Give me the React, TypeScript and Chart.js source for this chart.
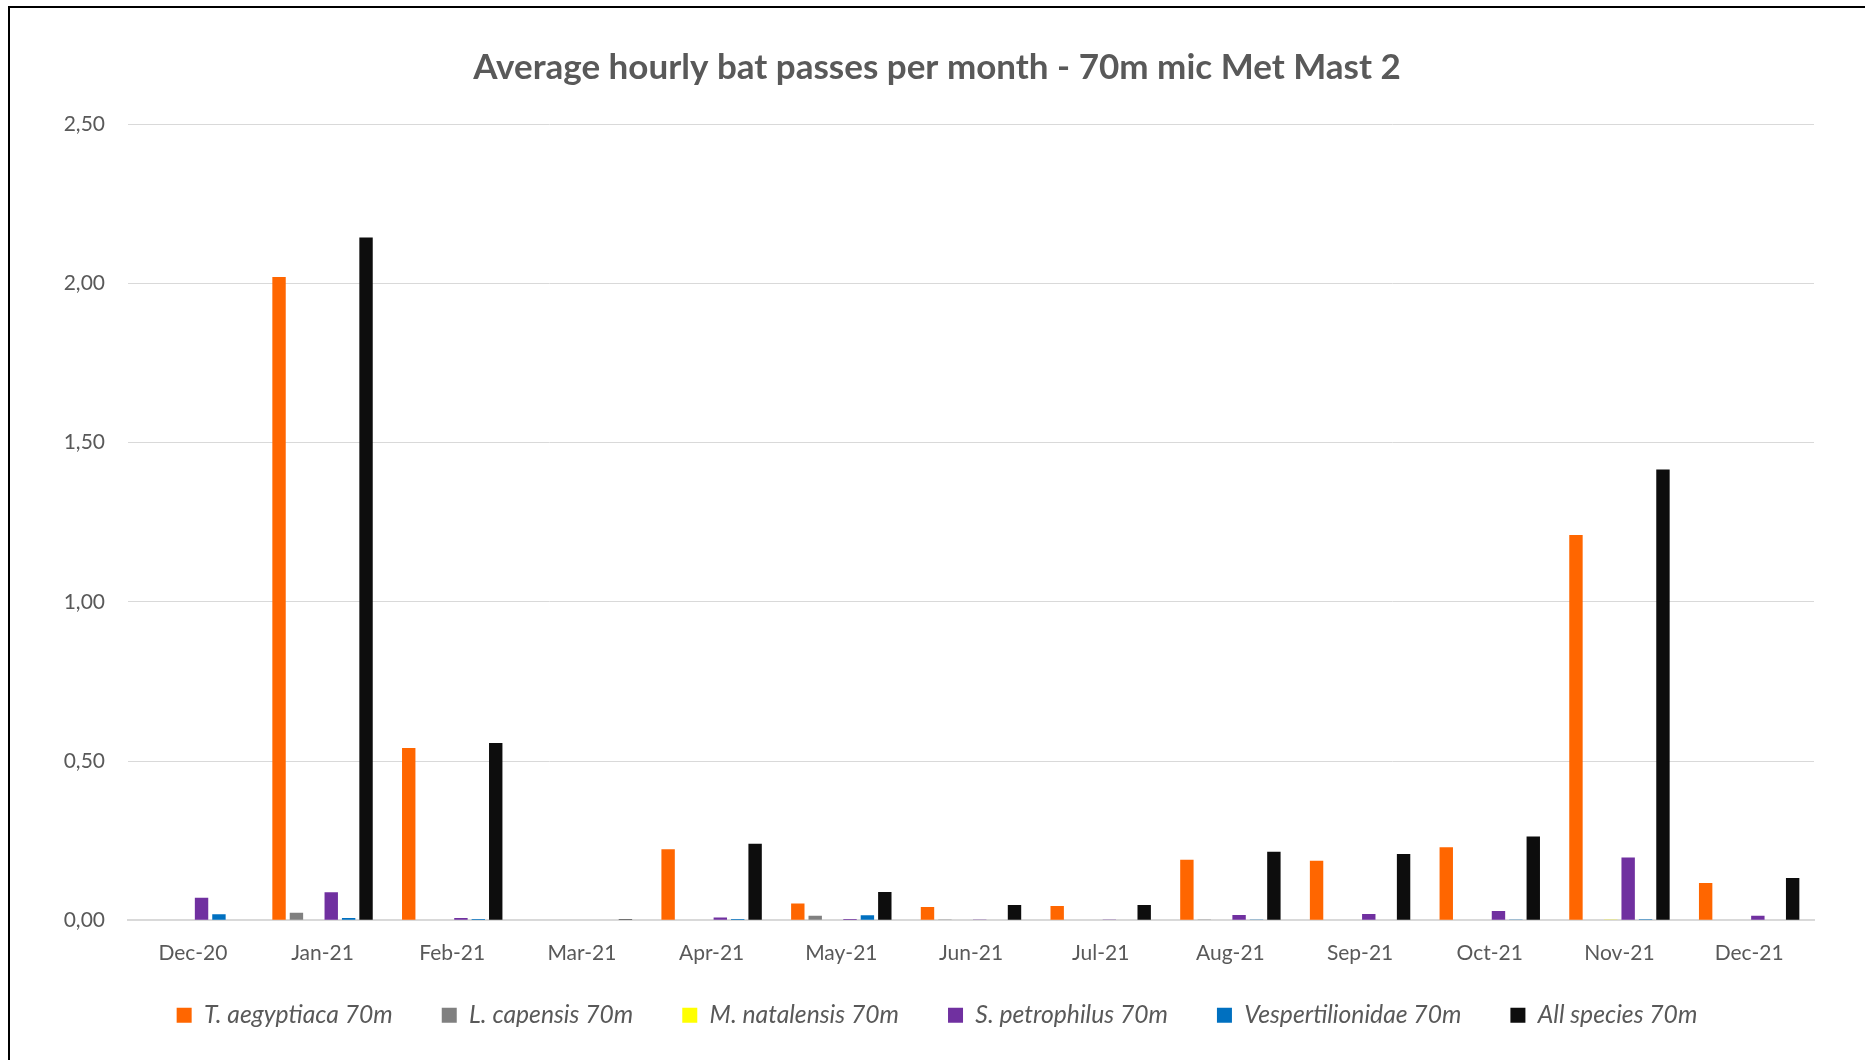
import React, { useEffect, useRef } from "react";
import { Chart, registerables } from "chart.js";

Chart.register(...registerables);

const categories = ["Dec-20", "Jan-21", "Feb-21", "Mar-21", "Apr-21", "May-21", "Jun-21", "Jul-21", "Aug-21", "Sep-21", "Oct-21", "Nov-21", "Dec-21"];

const tAegyptiaca = [0, 2.02, 0.541, 0.002, 0.223, 0.053, 0.042, 0.045, 0.19, 0.187, 0.229, 1.21, 0.117];
const lCapensis = [0, 0.024, 0, 0, 0, 0.014, 0.001, 0, 0.001, 0, 0, 0, 0];
const mNatalensis = [0, 0, 0, 0, 0, 0, 0, 0, 0, 0, 0, 0.001, 0];
const sPetrophilus = [0.071, 0.088, 0.007, 0, 0.009, 0.004, 0.001, 0.001, 0.017, 0.02, 0.029, 0.197, 0.014];
const vespertilionidae = [0.019, 0.007, 0.004, 0, 0.004, 0.016, 0, 0, 0.001, 0, 0.001, 0.003, 0];
const allSpecies = [0, 2.144, 0.557, 0.003, 0.24, 0.089, 0.048, 0.048, 0.215, 0.208, 0.263, 1.415, 0.133];

const seriesNames = ["T. aegyptiaca 70m", "L. capensis 70m", "M. natalensis 70m", "S. petrophilus 70m", "Vespertilionidae 70m", "All species 70m"];
const seriesColors = ["#FF6600", "#808080", "#FFFF00", "#7030A0", "#0070C0", "#0D0D0D"];

const yTicks = [0, 0.5, 1, 1.5, 2, 2.5];

export default function App() {
  const ref = useRef<HTMLCanvasElement | null>(null);

  useEffect(() => {
    if (!ref.current) return;
    const values = [tAegyptiaca, lCapensis, mNatalensis, sPetrophilus, vespertilionidae, allSpecies];
    const chart = new Chart(ref.current, {
      type: "bar",
      data: {
        labels: categories,
        datasets: values.map((v, i) => ({
          label: seriesNames[i],
          data: v,
          backgroundColor: seriesColors[i],
          borderWidth: 0,
          categoryPercentage: 0.805,
          barPercentage: 0.77,
        })),
      },
      options: {
        responsive: false,
        animation: false,
        devicePixelRatio: 1,
        layout: { padding: { left: 60, right: 51, top: 0, bottom: 22.5 } },
        plugins: {
          title: {
            display: true,
            text: "Average hourly bat passes per month - 70m mic Met Mast 2",
            color: "#595959",
            font: { family: "Lato", size: 35, weight: "bold" },
            padding: { top: 47, bottom: 35 },
          },
          legend: {
            position: "bottom",
            labels: {
              color: "#595959",
              font: { family: "Lato", size: 24.7, style: "italic" },
              boxWidth: 15,
              boxHeight: 15,
              padding: 49,
            },
          },
          tooltip: { enabled: false },
        },
        scales: {
          x: {
            grid: { display: false, drawTicks: false },
            border: { display: true, color: "#d9d9d9", width: 2 },
            ticks: {
              color: "#595959",
              font: { family: "Lato", size: 21 },
              padding: 20,
              maxRotation: 0,
            },
            afterFit: (scale: any) => {
              scale.height = 33.5;
              scale._computeLabelArea = () => undefined;
            },
          },
          y: {
            min: 0,
            max: 2.5,
            grid: { color: "#d9d9d9", lineWidth: 1, drawTicks: false },
            border: { display: false },
            afterBuildTicks: (scale: any) => {
              scale.ticks = yTicks.map((v) => ({ value: v }));
            },
            ticks: {
              color: "#595959",
              font: { family: "Lato", size: 21 },
              padding: 23,
              callback: (v: any) => Number(v).toFixed(2).replace(".", ","),
            },
            afterFit: (scale: any) => {
              scale.width = 68;
            },
          },
        },
      },
    });
    return () => chart.destroy();
  }, []);

  return (
    <div style={{ position: "fixed", left: 0, top: 0, width: 1865, height: 1060, background: "#ffffff", overflow: "hidden" }}>
      <div style={{ position: "absolute", left: 8, top: 6, right: -10, bottom: -10, borderLeft: "2px solid #000", borderTop: "2px solid #000" }} />
      <canvas ref={ref} width={1865} height={1060} style={{ position: "absolute", left: 0, top: 0, width: 1865, height: 1060 }} />
    </div>
  );
}
